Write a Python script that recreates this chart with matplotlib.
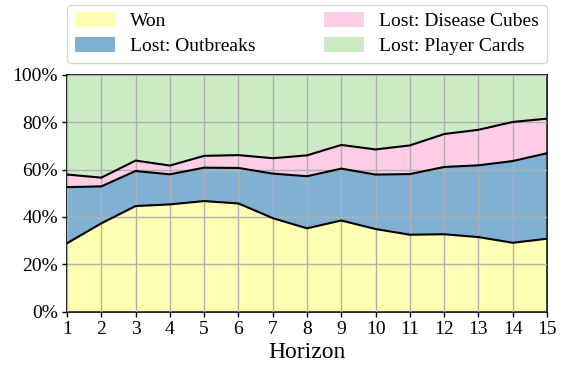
import numpy as np
import matplotlib.pyplot as plt
from matplotlib.patches import Patch
from matplotlib.ticker import PercentFormatter

plt.rcParams['font.family'] = ['Liberation Serif', 'DejaVu Serif']

horizonte = list(range(1, 16))
ganadas = [28.9, 37.3, 44.6, 45.3, 46.7, 45.7, 39.5, 35.2, 38.5, 34.9, 32.5, 32.7, 31.5, 29.1, 30.8]
brotes = [23.7, 15.6, 14.8, 12.7, 14.1, 15.0, 18.8, 22.0, 21.9, 23.0, 25.6, 28.4, 30.3, 34.5, 36.1]
cubos = [5.3, 3.7, 4.4, 3.7, 5.0, 5.4, 6.5, 8.8, 10.0, 10.6, 12.1, 13.9, 15.0, 16.5, 14.6]
cartas = [42.1, 43.4, 36.2, 38.3, 34.2, 33.9, 35.2, 34.0, 29.6, 31.5, 29.8, 25.0, 23.2, 19.9, 18.5]

etiquetas = ['Won', 'Lost: Outbreaks', 'Lost: Disease Cubes', 'Lost: Player Cards']
colores = ['#ffffb3', '#80b1d3', '#fccde5', '#ccebc5']

fig = plt.figure(figsize=(5.68, 3.65), dpi=100)
ax = fig.add_axes([0.118, 0.146, 0.845, 0.649])

capas = np.array([ganadas, brotes, cubos, cartas])
ax.stackplot(horizonte, capas, colors=colores, linewidth=0)

# bordes negros entre capas
acumulado = np.cumsum(capas, axis=0)
for fila in acumulado[:3]:
    ax.plot(horizonte, fila, color='black', linewidth=1.5, zorder=3)

ax.set_xlim(1, 15)
ax.set_ylim(0, 100)
ax.set_xticks(horizonte)
ax.set_yticks(range(0, 101, 20))
ax.yaxis.set_major_formatter(PercentFormatter(decimals=0))
ax.grid(True, color='#b0b0b0', linewidth=1)
ax.set_axisbelow(False)
ax.tick_params(labelsize=14, length=3.5, width=1, pad=3)
ax.set_xlabel('Horizon', fontsize=17, labelpad=3)
for s in ax.spines.values():
    s.set_linewidth(1.2)

# orden de la leyenda en dos columnas
manejadores = [Patch(facecolor=c, edgecolor='none') for c in colores]
ax.legend(manejadores, etiquetas, ncol=2, loc='lower left',
          bbox_to_anchor=(0, 1.05, 1, 0.2), mode='expand', fontsize=14,
          handlelength=2.05, handleheight=0.75, borderaxespad=0,
          frameon=True, edgecolor='#cccccc', fancybox=True,
          labelspacing=0.36, columnspacing=1.0)

fig.savefig('out.png', dpi=100)
